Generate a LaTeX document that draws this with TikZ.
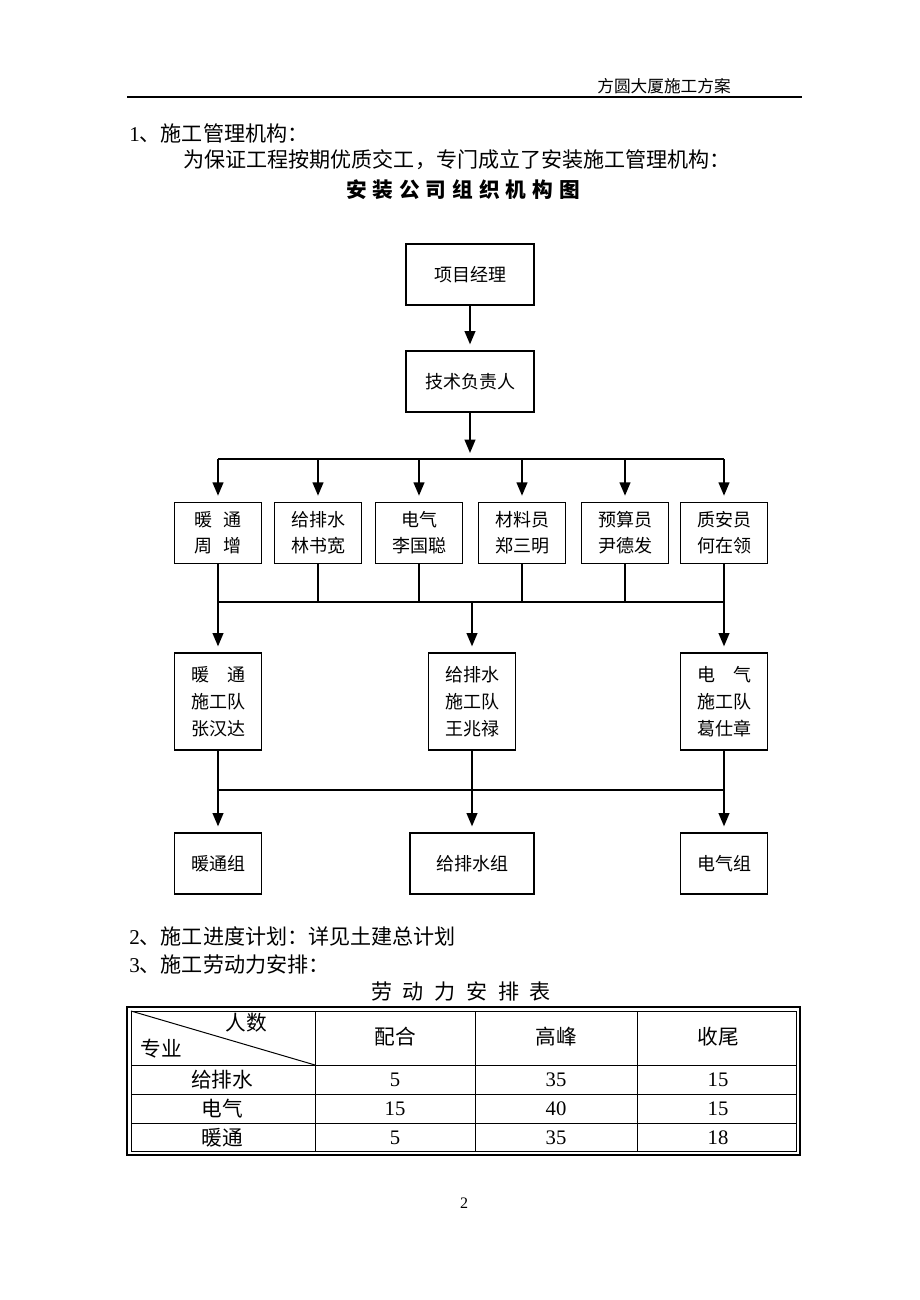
\documentclass[tikz,border=0pt]{standalone}
\usepackage{fontspec}
\setmainfont{Liberation Serif}
\newfontfamily\cjk{Noto Sans CJK SC}
\usetikzlibrary{arrows.meta}
\begin{document}
\begin{tikzpicture}[x=0.75pt,y=-0.75pt,
  box/.style={draw,line width=0.9pt,align=center,inner sep=0pt,minimum width=65pt,minimum height=46pt,font=\fontsize{13.5}{19.5}\selectfont\cjk},
  tallbox/.style={box,minimum height=72.75pt,font=\fontsize{13.5}{20.25}\selectfont\cjk},
  thickline/.style={line width=1.5pt},
  thinline/.style={line width=0.8pt},
  arr/.style={line width=1.5pt,-{Triangle[length=10pt,width=8pt]},shorten >=4.5pt},
  body/.style={font=\fontsize{15.8}{18}\selectfont\cjk,inner sep=0pt},
  cell/.style={font=\fontsize{15.5}{18}\selectfont\cjk,inner sep=0pt},
  numcell/.style={font=\fontsize{15.5}{18}\selectfont\rmfamily,inner sep=0pt},
]
\fill[white] (0,0) rectangle (920,1300);
\useasboundingbox (0,0) rectangle (920,1300);

% header
\node[anchor=east,inner sep=0pt,font=\fontsize{12.5}{14}\selectfont\cjk] (hdr) at (731,86) {方圆大厦施工方案};
\draw[line width=1.8pt] (127,97) -- (802,97);

% intro text
\node[body,anchor=west] (s1) at (129,133) {{\rmfamily 1}、施工管理机构：};
\node[body,anchor=west] (s1b) at (183,160) {为保证工程按期优质交工，专门成立了安装施工管理机构：};
\node[body,font=\fontsize{15.5}{18}\selectfont\cjk\bfseries] (title) at (463,190)
  {安\hspace{4.5pt}装\hspace{4.5pt}公\hspace{4.5pt}司\hspace{4.5pt}组\hspace{4.5pt}织\hspace{4.5pt}机\hspace{4.5pt}构\hspace{4.5pt}图};

% org chart
\node[box,minimum width=96pt,minimum height=45.75pt] (pm) at (470,274.5) {项目经理};
\node[box,minimum width=96pt,minimum height=45.75pt] (tech) at (470,381.5) {技术负责人};
\draw[arr] (pm) -- (tech);
\coordinate (bus1) at (470,459);
\draw[arr] (tech) -- (bus1);

\node[box] (b1) at (218,533) {暖\hspace{0.6em}通\\周\hspace{0.6em}增};
\node[box] (b2) at (318,533) {给排水\\林书宽};
\node[box] (b3) at (419,533) {电气\\李国聪};
\node[box] (b4) at (522,533) {材料员\\郑三明};
\node[box] (b5) at (625,533) {预算员\\尹德发};
\node[box] (b6) at (724,533) {质安员\\何在领};

\draw[thickline] (b1.north |- bus1) -- (b6.north |- bus1);
\foreach \b in {b1,b2,b3,b4,b5,b6} \draw[arr] (\b.north |- bus1) -- (\b.north);

\coordinate (bus2) at (470,602);
\foreach \b in {b1,b2,b3,b4,b5,b6} \draw[thinline] (\b.south) -- (\b.south |- bus2);
\draw[thinline] (b1.south |- bus2) -- (b6.south |- bus2);

\node[tallbox] (r1) at (218,701.5) {暖\hspace{1em}通\\施工队\\张汉达};
\node[tallbox] (r2) at (472,701.5) {给排水\\施工队\\王兆禄};
\node[tallbox] (r3) at (724,701.5) {电\hspace{1em}气\\施工队\\葛仕章};
\foreach \r in {r1,r2,r3} \draw[arr] (\r.north |- bus2) -- (\r.north);

\node[box,minimum height=45.75pt] (g1) at (218,863.5) {暖通组};
\node[box,minimum height=45.75pt,minimum width=93pt] (g2) at (472,863.5) {给排水组};
\node[box,minimum height=45.75pt] (g3) at (724,863.5) {电气组};

\coordinate (bus3) at (470,790);
\draw[thickline] (r1.south |- bus3) -- (r3.south |- bus3);
\draw[arr] (r1) -- (g1);
\draw[arr] (r2) -- (g2);
\draw[arr] (r3) -- (g3);

% section 2,3
\node[body,anchor=west] (s2) at (129,936) {{\rmfamily 2}、施工进度计划：详见土建总计划};
\node[body,anchor=west] (s3) at (129,965) {{\rmfamily 3}、施工劳动力安排：};
\node[body] (ttitle) at (461,992) {劳\hspace{8pt}动\hspace{8pt}力\hspace{8pt}安\hspace{8pt}排\hspace{8pt}表};

% table
\draw[line width=1.5pt] (127,1007) rectangle (800,1155);
\draw[line width=0.75pt] (131,1011) rectangle (796,1151);
\foreach \x in {315,475,637} \draw[line width=0.75pt] (\x,1011) -- (\x,1151);
\foreach \y in {1065,1094,1123} \draw[line width=0.75pt] (131,\y) -- (796,\y);
\draw[line width=0.75pt] (131,1011) -- (315,1065);

\node[cell] (hA) at (246,1023) {人数};
\node[cell] (hB) at (161,1049) {专业};
\node[cell] (h1) at (395,1037) {配合};
\node[cell] (h2) at (556,1037) {高峰};
\node[cell] (h3) at (718,1037) {收尾};

\node[cell] (ra) at (222,1080) {给排水};
\node[numcell] (ra1) at (395,1080) {5};
\node[numcell] (ra2) at (556,1080) {35};
\node[numcell] (ra3) at (718,1080) {15};

\node[cell] (rb) at (222,1108.5) {电气};
\node[numcell] (rb1) at (395,1108.5) {15};
\node[numcell] (rb2) at (556,1108.5) {40};
\node[numcell] (rb3) at (718,1108.5) {15};

\node[cell] (rc) at (222,1137.5) {暖通};
\node[numcell] (rc1) at (395,1137.5) {5};
\node[numcell] (rc2) at (556,1137.5) {35};
\node[numcell] (rc3) at (718,1137.5) {18};

\node[inner sep=0pt,font=\fontsize{12}{14}\selectfont\rmfamily] (pg) at (464,1203) {2};
\end{tikzpicture}
\end{document}
